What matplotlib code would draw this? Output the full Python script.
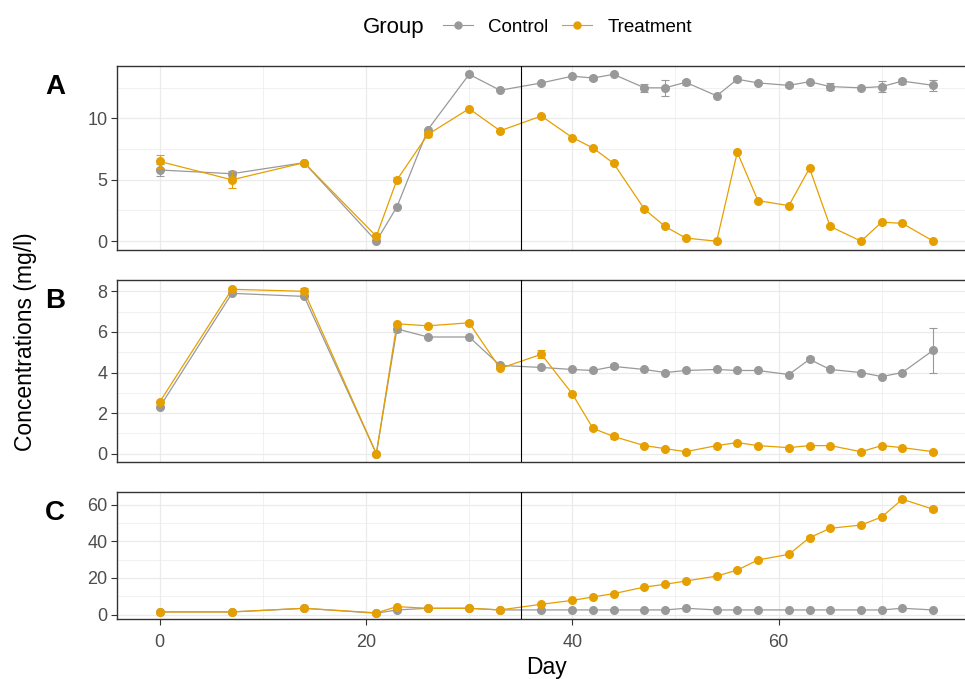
import matplotlib
matplotlib.use("Agg")
import matplotlib.pyplot as plt
from matplotlib.lines import Line2D
from matplotlib.ticker import MultipleLocator

plt.rcParams["font.family"] = ["Liberation Sans", "DejaVu Sans"]

# sampling days shared by all three analytes
days = [0, 7, 14, 21, 23, 26, 30, 33, 37, 40, 42, 44, 47, 49, 51, 54,
        56, 58, 61, 63, 65, 68, 70, 72, 75]
switch_day = 35

# panel A
a_control = [5.8, 5.5, 6.4, 0.0, 2.8, 9.1, 13.6, 12.3, 12.9, 13.45, 13.3, 13.6,
             12.5, 12.5, 12.95, 11.85, 13.2, 12.9, 12.7, 13.0, 12.6, 12.5, 12.6,
             13.05, 12.7]
a_control_se = [0.45, 0.25, 0, 0, 0, 0, 0, 0, 0, 0, 0.15, 0, 0.35, 0.65, 0.2, 0,
                0.15, 0, 0.15, 0, 0.3, 0, 0.45, 0.2, 0.45]
a_treat = [6.5, 5.0, 6.4, 0.4, 5.0, 8.7, 10.8, 9.0, 10.2, 8.45, 7.6, 6.35, 2.6,
           1.2, 0.25, 0.0, 7.25, 3.3, 2.9, 5.95, 1.2, 0.0, 1.55, 1.45, 0.0]
a_treat_se = [0.55, 0.7, 0, 0.2, 0.2, 0.2, 0, 0, 0, 0, 0, 0, 0, 0, 0, 0,
              0, 0, 0, 0, 0, 0, 0, 0, 0]

# panel B
b_control = [2.3, 7.9, 7.75, 0.0, 6.15, 5.75, 5.75, 4.35, 4.25, 4.15, 4.1, 4.3,
             4.15, 4.0, 4.1, 4.15, 4.1, 4.1, 3.9, 4.65, 4.15, 4.0, 3.8, 4.0, 5.1]
b_control_se = [0, 0, 0, 0, 0.15, 0, 0, 0, 0, 0, 0, 0.1, 0, 0, 0, 0,
                0, 0, 0, 0.1, 0, 0, 0, 0, 1.1]
b_treat = [2.55, 8.1, 8.0, 0.0, 6.4, 6.3, 6.45, 4.2, 4.9, 2.95, 1.25, 0.85, 0.4,
           0.25, 0.1, 0.4, 0.55, 0.4, 0.3, 0.4, 0.4, 0.1, 0.4, 0.3, 0.1]
b_treat_se = [0, 0, 0.15, 0, 0, 0, 0.1, 0, 0.2, 0, 0, 0.1, 0, 0, 0, 0,
              0, 0, 0, 0, 0, 0, 0, 0, 0]

# panel C
c_control = [1.4, 1.4, 3.4, 0.7, 2.5, 3.4, 3.4, 2.5, 2.5, 2.5, 2.5, 2.5, 2.5,
             2.5, 3.4, 2.5, 2.5, 2.5, 2.5, 2.5, 2.5, 2.5, 2.5, 3.4, 2.5]
c_control_se = [0] * len(days)
c_treat = [1.4, 1.4, 3.4, 0.9, 4.3, 3.4, 3.4, 2.5, 5.6, 7.7, 9.6, 11.4, 15.0,
           16.5, 18.3, 21.0, 24.3, 29.8, 32.9, 42.0, 47.1, 48.9, 53.3, 63.0, 57.5]
c_treat_se = [0, 0, 0, 0, 0, 0, 0, 0, 0, 0, 0, 0, 0, 0, 0, 0,
              0, 0, 0, 0.8, 0, 0, 0.5, 0.8, 1.0]

panels = [
    ("A", a_control, a_control_se, a_treat, a_treat_se, 5, 2.5),
    ("B", b_control, b_control_se, b_treat, b_treat_se, 2, 1),
    ("C", c_control, c_control_se, c_treat, c_treat_se, 20, 10),
]

CONTROL = "#999999"
TREAT = "#E69F00"
GRID = "#EBEBEB"
DARK = "#333333"

W, H = 965, 679
fig = plt.figure(figsize=(W / 100, H / 100), dpi=100)

# panel boxes in pixels: (top, bottom)
boxes = [(66, 249.5), (280, 462), (492, 619)]
left_px, right_px = 116.5, 976.5

# x range padded like ggplot (errorbar half-width + 5%)
xlo, xhi = days[0] - 0.4, days[-1] + 0.4
xpad = (xhi - xlo) * 0.05
xlim = (xlo - xpad, xhi + xpad)


def ylims(*pairs):
    lo = min(min(v - e for v, e in zip(y, s)) for y, s in pairs)
    hi = max(max(v + e for v, e in zip(y, s)) for y, s in pairs)
    pad = (hi - lo) * 0.05
    return lo - pad, hi + pad


axes = []
for (label, yc, sc, yt, st, major, minor), (top, bot) in zip(panels, boxes):
    ax = fig.add_axes([left_px / W, 1 - bot / H, (right_px - left_px) / W, (bot - top) / H])
    axes.append(ax)
    ax.set_xlim(*xlim)
    ax.set_ylim(*ylims((yc, sc), (yt, st)))
    ax.xaxis.set_major_locator(MultipleLocator(20))
    ax.xaxis.set_minor_locator(MultipleLocator(10))
    ax.yaxis.set_major_locator(MultipleLocator(major))
    ax.yaxis.set_minor_locator(MultipleLocator(minor))
    ax.grid(which="major", color=GRID, lw=0.9)
    ax.grid(which="minor", color=GRID, lw=0.5)
    ax.set_axisbelow(True)
    for sp in ax.spines.values():
        sp.set_color(DARK)
        sp.set_linewidth(1.0)
    ax.tick_params(which="major", axis="both", color=DARK, length=4, width=0.8,
                   labelsize=13, labelcolor="#4D4D4D", pad=2.5)
    ax.tick_params(which="minor", length=0)

    for y, s, col in ((yc, sc, CONTROL), (yt, st, TREAT)):
        ax.plot(days, y, color=col, lw=0.9, marker="o", ms=5.5, mec=col, mfc=col, zorder=3)
        ed = [d for d, e in zip(days, s) if e > 0]
        ev = [v for v, e in zip(y, s) if e > 0]
        ee = [e for e in s if e > 0]
        if ed:
            ax.errorbar(ed, ev, yerr=ee, fmt="none", ecolor=col, elinewidth=0.8,
                        capsize=3.2, capthick=0.8, zorder=3)

    ax.axvline(switch_day, color="black", lw=0.8, zorder=4)
    fig.text(55 / W, 1 - (top + 21) / H, label, fontsize=20, fontweight="bold",
             ha="center", va="center")

for ax in axes[:-1]:
    ax.tick_params(axis="x", which="both", bottom=False, labelbottom=False)
axes[-1].tick_params(axis="x", pad=6.5)

axes[-1].set_xlabel("Day", fontsize=16.5, color="black", labelpad=4)
fig.text(26 / W, 1 - 342 / H, "Concentrations (mg/l)", rotation=90, fontsize=16.5,
         ha="center", va="center")

# legend across the top
fig.text(363 / W, 1 - 27 / H, "Group", fontsize=16, ha="left", va="center")
handles = [Line2D([], [], color=CONTROL, lw=0.8, marker="o", ms=5),
           Line2D([], [], color=TREAT, lw=0.8, marker="o", ms=5)]
fig.legend(handles, ["Control", "Treatment"], loc="center left",
           bbox_to_anchor=(443 / W, 1 - 27 / H), ncol=2, frameon=False,
           fontsize=13.5, handlelength=1.6, handletextpad=0.8, columnspacing=0.75,
           borderpad=0, borderaxespad=0)

fig.savefig("out.png", dpi=100)
